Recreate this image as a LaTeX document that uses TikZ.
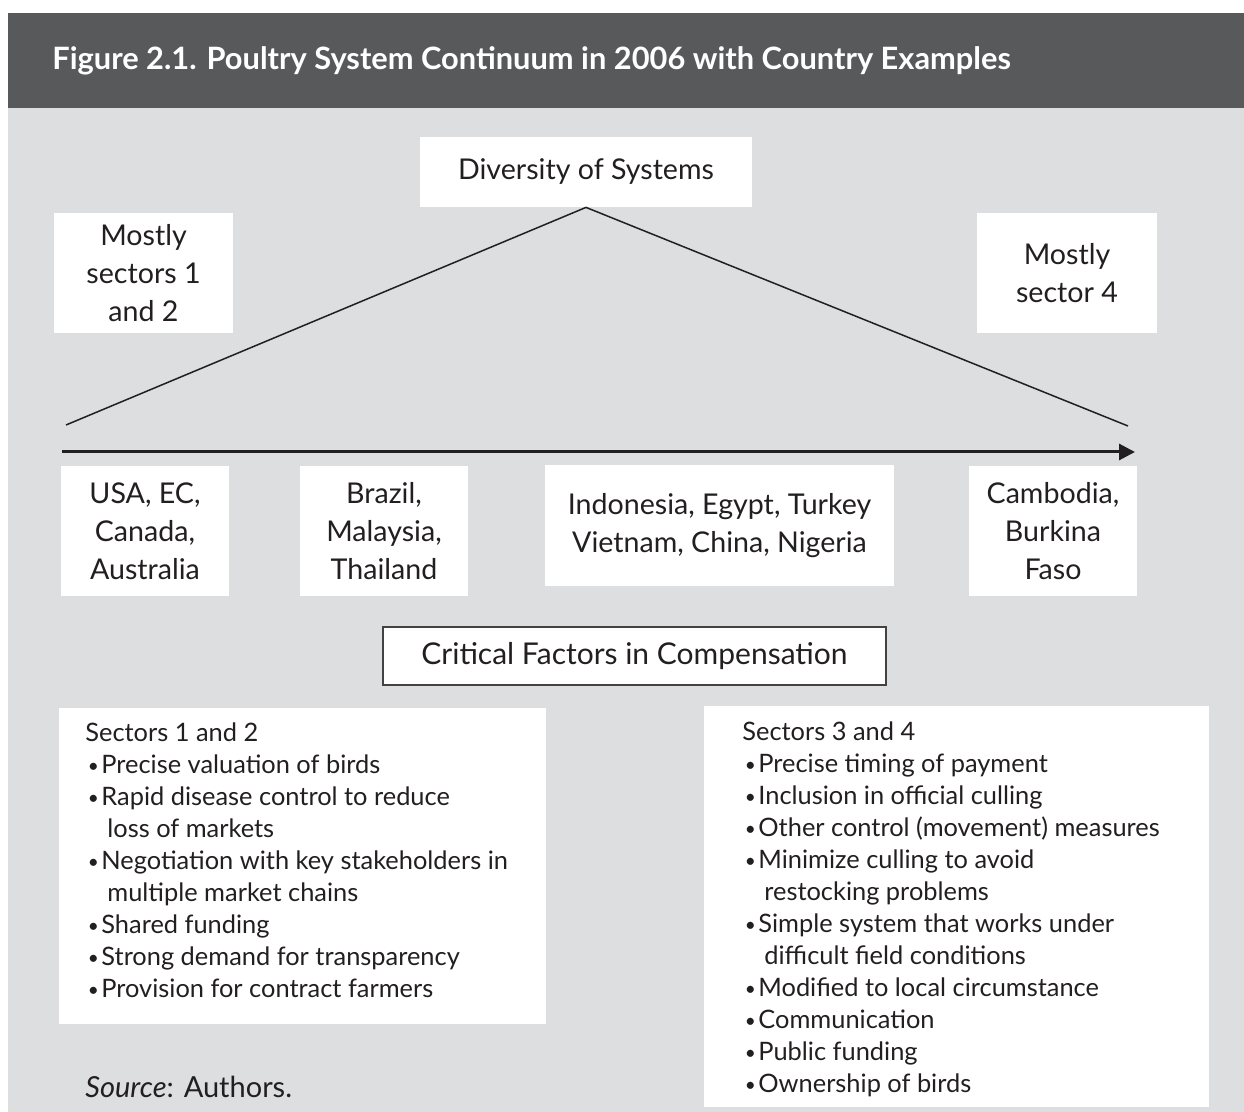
\documentclass[tikz,border=0pt]{standalone}
\usepackage{fontspec}
\setmainfont{Lato}
\usetikzlibrary{arrows.meta}
\definecolor{bggray}{RGB}{220,222,224}
\definecolor{hdr}{RGB}{88,89,91}
\definecolor{ink}{RGB}{35,31,32}
\newcommand\bitem{\makebox[8pt][l]{\hspace{1.2pt}\raisebox{0.3pt}{\scalebox{0.75}{\textbullet}}}}
\newcommand\cont{\hspace*{11pt}}
\begin{document}
\begin{tikzpicture}[x=0.5pt,y=-0.5pt,
  wbox/.style={fill=white,draw=none,inner sep=0pt,align=center,text=ink,
    font=\fontsize{14.3}{19}\selectfont},
  listtxt/.style={font=\fontsize{12.7}{16}\selectfont,text=ink,align=left,
    inner sep=0pt,anchor=north west},
  tline/.style={draw=ink,line width=0.75pt},
  axis/.style={draw=ink,line width=1.5pt,-{Triangle[length=8pt,width=8pt]}},
]
\useasboundingbox (0,0) rectangle (1244,1112);
\fill[white] (0,0) rectangle (1244,1112);
\fill[bggray] (8,108) rectangle (1244,1112);
\fill[hdr] (8,13) rectangle (1244,108);
\node[anchor=base west,inner sep=0pt,text=white,font=\fontsize{15.4}{18}\selectfont\bfseries]
  (title) at (52,70) {Figure 2.1. Poultry System Continuum in 2006 with Country Examples};

% top boxes
\node[wbox,minimum width=166pt,minimum height=35pt] (div) at (586,172) {Diversity of Systems};
\node[wbox,minimum width=89.5pt,minimum height=60pt] (ms12) at (143.5,273) {Mostly\\sectors 1\\and 2};
\node[wbox,minimum width=90pt,minimum height=60pt] (ms4) at (1067,273) {Mostly\\sector 4};

% triangle and axis
\coordinate (ltip) at (66,425);
\coordinate (rtip) at (1128,426);
\coordinate (astart) at (62,452);
\coordinate (aend) at (1135,452);
\draw[tline] (ltip) -- (div.south) -- (rtip);
\draw[axis] (astart) -- (aend);

% country boxes
\node[wbox,minimum width=84pt,minimum height=65pt] (c1) at (145,531) {USA, EC,\\Canada,\\Australia};
\node[wbox,minimum width=84pt,minimum height=65pt] (c2) at (384,531) {Brazil,\\Malaysia,\\Thailand};
\node[wbox,minimum width=174.5pt,minimum height=60.5pt] (c3) at (719.5,525.5) {Indonesia, Egypt, Turkey\\Vietnam, China, Nigeria};
\node[wbox,minimum width=84pt,minimum height=65pt] (c4) at (1053,531) {Cambodia,\\Burkina\\Faso};

% critical factors
\node[wbox,font=\fontsize{15}{19}\selectfont,draw=ink!85,line width=0.8pt,minimum width=251.5pt,minimum height=29pt] (crit) at (634.5,656) {Critical Factors in Compensation};

% list boxes
\node[wbox,minimum width=243.5pt,minimum height=158pt] (lbox) at (302.5,866) {};
\node[wbox,minimum width=252.5pt,minimum height=200.5pt] (rbox) at (956.5,906.5) {};

\node[listtxt] (ltxt) at (85,722) {Sectors 1 and 2\\
\bitem Precise valuation of birds\\
\bitem Rapid disease control to reduce\\
\cont loss of markets\\
\bitem Negotiation with key stakeholders in\\
\cont multiple market chains\\
\bitem Shared funding\\
\bitem Strong demand for transparency\\
\bitem Provision for contract farmers};

\node[listtxt] (rtxt) at (742,721) {Sectors 3 and 4\\
\bitem Precise timing of payment\\
\bitem Inclusion in official culling\\
\bitem Other control (movement) measures\\
\bitem Minimize culling to avoid\\
\cont restocking problems\\
\bitem Simple system that works under\\
\cont difficult field conditions\\
\bitem Modified to local circumstance\\
\bitem Communication\\
\bitem Public funding\\
\bitem Ownership of birds};

\node[anchor=base west,inner sep=0pt,text=ink,font=\fontsize{14.5}{16}\selectfont]
  (src) at (85,1097) {\textit{Source}: Authors.};
\end{tikzpicture}
\end{document}
